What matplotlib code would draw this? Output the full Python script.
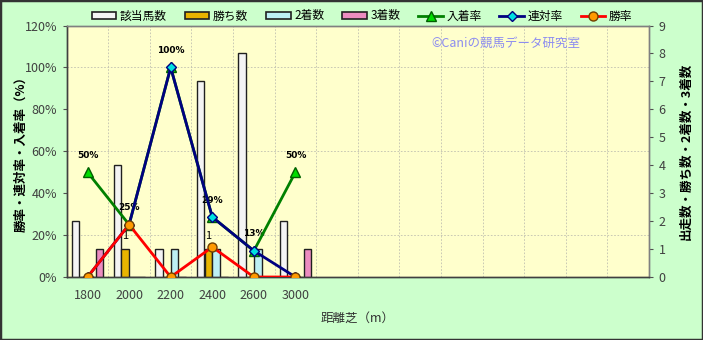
import matplotlib.pyplot as plt
import numpy as np
from matplotlib.patches import Rectangle

plt.rcParams['font.family'] = ['Noto Sans CJK JP', 'DejaVu Sans']

# data
distances = ['1800', '2000', '2200', '2400', '2600', '3000']
n_slots = 14
runners = [2, 4, 1, 7, 8, 2]
wins = [0, 1, 0, 1, 0, 0]
seconds = [0, 0, 1, 1, 1, 0]
thirds = [1, 0, 0, 0, 0, 1]
place_rate = [50, 25, 100, 28.6, 12.5, 50]
top2_rate = [0, 25, 100, 28.6, 12.5, 0]
win_rate = [0, 25, 0, 14.3, 0, 0]
win_labels = ['', '1', '', '1', '', '']

bg_fig = '#ccffcc'
bg_ax = '#ffffcc'
tick_col = '#404040'

fig = plt.figure(figsize=(7.03, 3.40), dpi=100, facecolor=bg_fig)
ax = fig.add_axes([0.0949, 0.1853, 0.8282, 0.7397])
ax.set_facecolor(bg_ax)
ax2 = ax.twinx()

x = np.arange(len(distances))
w = 0.18
bar_specs = [
    (runners, '該当馬数', '#f4f4f4', -1.5),
    (wins, '勝ち数', '#e8b400', -0.5),
    (seconds, '2着数', '#bdf0f4', 0.5),
    (thirds, '3着数', '#ec8cc0', 1.5),
]
handles = []
for vals, name, col, k in bar_specs:
    ax.bar(x + k * (w + 0.01), vals, width=w, color=col, edgecolor='#202020',
           linewidth=1.0, zorder=3)
    handles.append(Rectangle((0, 0), 1, 1, facecolor=col, edgecolor='#202020',
                             linewidth=1.2, label=name))

for xi, v, lab in zip(x, wins, win_labels):
    if lab:
        ax.annotate(lab, (xi - 0.5 * (w + 0.01), v), xytext=(0, 6),
                    textcoords='offset points', ha='center', va='bottom',
                    fontsize=8, color='black', zorder=6)

ax.set_xlim(-0.5, n_slots - 0.5)
ax.set_ylim(0, 9)
ax.yaxis.tick_right()
ax.yaxis.set_label_position('right')
ax.set_yticks(range(10))
ax.set_yticks(np.linspace(0, 9, 7), minor=True)
ax.set_xticks(x)
ax.set_xticklabels(distances)
ax.set_xticks(np.arange(-0.5, n_slots, 1), minor=True)
ax.grid(which='minor', color='#c0c0b0', linestyle=(0, (2, 2)), linewidth=0.6, zorder=0)
ax.tick_params(axis='x', which='both', length=0, pad=9, labelsize=9, labelcolor=tick_col)
ax.tick_params(axis='y', which='major', length=3, direction='out', pad=4,
               labelsize=9, labelcolor=tick_col, color='#505050')
ax.tick_params(axis='y', which='minor', length=0)
ax.set_ylabel('出走数・勝ち数・2着数・3着数', fontsize=9, fontweight='bold',
              labelpad=10, rotation=90)
ax.set_xlabel('距離芝（m）', fontsize=9, color='#303030', labelpad=7)

# lines on the percentage axis
l1, = ax2.plot(x, place_rate, color='#008000', linewidth=2, marker='^',
               markersize=7, markerfacecolor='#00dd00', markeredgecolor='#006000',
               label='入着率', zorder=4)
l2, = ax2.plot(x, top2_rate, color='#000080', linewidth=2, marker='D',
               markersize=5, markerfacecolor='#00e0e0', markeredgecolor='#000080',
               label='連対率', zorder=5)
l3, = ax2.plot(x, win_rate, color='#ff0000', linewidth=2, marker='o',
               markersize=6.5, markerfacecolor='#ff9900', markeredgecolor='#704000',
               label='勝率', zorder=6)
for xi, v in zip(x, place_rate):
    ax2.annotate(f'{int(v + 0.5)}%', (xi, v), xytext=(0, 9), textcoords='offset points',
                 ha='center', va='bottom', fontsize=6.5, fontweight='bold',
                 family='DejaVu Sans', color='black')

ax2.set_ylim(0, 120)
ax2.set_yticks(range(0, 121, 20))
ax2.set_yticklabels([f'{t}%' for t in range(0, 121, 20)])
ax2.yaxis.tick_left()
ax2.yaxis.set_label_position('left')
ax2.tick_params(axis='y', length=3, direction='out', pad=4, labelsize=9,
                labelcolor=tick_col, color='#505050')
ax2.set_ylabel('勝率・連対率・入着率（%）', fontsize=9, fontweight='bold', labelpad=-2)

for a in (ax, ax2):
    for s in a.spines.values():
        s.set_color('#808080')
        s.set_linewidth(1.0)
    a.spines['left'].set_color('#404040')
    a.spines['bottom'].set_color('#404040')

ax2.text(0.755, 0.93, '©Caniの競馬データ研究室', transform=ax2.transAxes,
         ha='center', va='center', fontsize=9, color='#8c8cf0')

handles += [l1, l2, l3]
fig.legend(handles=handles, loc='center', bbox_to_anchor=(0.515, 0.953), ncol=7,
           frameon=False, fontsize=8.5, handlelength=2.1, handleheight=0.5,
           columnspacing=1.5, handletextpad=0.3)

fig.patches.append(Rectangle((0, 0), 1, 1, transform=fig.transFigure,
                             fill=False, edgecolor='#333333', linewidth=2.5))

fig.savefig('out.png', dpi=100, facecolor=bg_fig)
